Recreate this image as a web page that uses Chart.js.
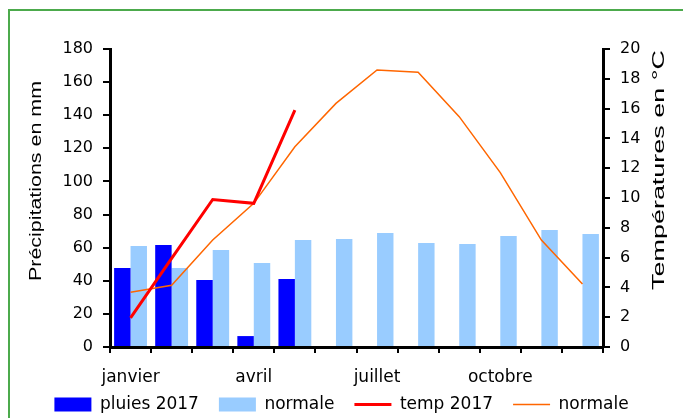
<!DOCTYPE html>
<html>
<head>
<meta charset="utf-8">
<script src="https://cdn.jsdelivr.net/npm/chart.js@4"></script>
<style>
  body { margin: 0; background: #fff; }
  #wrap { position: relative; width: 683px; height: 418px; overflow: hidden; }
  #frame { position: absolute; left: 8px; top: 9px; width: 720px; height: 440px; border: 2px solid #4caa4c; box-sizing: border-box; }
  #chart { position: absolute; left: 0; top: 0; }
</style>
</head>
<body>
<div id="wrap">
  <div id="frame"></div>
  <canvas id="chart" width="683" height="418"></canvas>
</div>
<script>
var mois = ['janvier', 'février', 'mars', 'avril', 'mai', 'juin', 'juillet', 'août', 'septembre', 'octobre', 'novembre', 'décembre'];
var pluies2017 = [47.7, 61.6, 40.5, 6.6, 41, null, null, null, null, null, null, null];
var pluiesNormale = [61, 47.7, 58.6, 50.7, 64.6, 65.2, 68.8, 62.8, 62.2, 67, 70.7, 68.2];
var temp2017 = [1.95, 5.95, 9.9, 9.64, 15.9, null, null, null, null, null, null, null];
var tempNormale = [3.67, 4.14, 7.18, 9.64, 13.44, 16.35, 18.59, 18.44, 15.46, 11.7, 7.18, 4.23];

Chart.defaults.color = '#000';
Chart.defaults.font.family = '"DejaVu Sans", sans-serif';

// titres des axes, un peu étirés comme sur l'original
var axisTitles = {
    id: 'axisTitles',
    afterDraw: function(chart) {
        var ctx = chart.ctx;
        var area = chart.chartArea;
        var draw = function(text, x, y, len) {
            ctx.save();
            ctx.font = '16px "Liberation Sans", Arial, sans-serif';
            ctx.fillStyle = '#000';
            ctx.textAlign = 'center';
            ctx.textBaseline = 'middle';
            ctx.translate(x, y);
            ctx.rotate(-Math.PI / 2);
            var w = ctx.measureText(text).width;
            ctx.scale(len / w, 1);
            ctx.fillText(text, 0, 0);
            ctx.restore();
        };
        draw('Précipitations en mm', 37, area.top + 132, 200);
        draw('Températures en °C', 660, area.top + 121, 240);
    }
};

// la légende remonte un peu, sous les étiquettes des mois
var legendShift = {
    id: 'legendShift',
    afterLayout: function(chart) {
        chart.legend.top -= 16;
    }
};

var ctx = document.getElementById('chart').getContext('2d');
var myChart = new Chart(ctx, {
    type: 'bar',
    data: {
        labels: mois,
        datasets: [
            { type: 'bar', label: 'pluies 2017', data: pluies2017, backgroundColor: '#0000ff', yAxisID: 'y', order: 3 },
            { type: 'bar', label: 'normale', data: pluiesNormale, backgroundColor: '#99ccff', yAxisID: 'y', order: 4 },
            { type: 'line', label: 'temp 2017', data: temp2017, borderColor: '#ff0000', borderWidth: 3, pointRadius: 0, tension: 0, yAxisID: 'y1', order: 1 },
            { type: 'line', label: 'normale', data: tempNormale, borderColor: '#ff6600', borderWidth: 1.5, pointRadius: 0, tension: 0, yAxisID: 'y1', order: 2 }
        ]
    },
    options: {
        responsive: false,
        animation: false,
        layout: { padding: { top: 49, left: 0, right: 0, bottom: 0 } },
        datasets: { bar: { categoryPercentage: 0.8, barPercentage: 1.0 } },
        scales: {
            x: {
                grid: { drawOnChartArea: false, color: '#000', lineWidth: 2, tickLength: 6, offset: true },
                border: { color: '#000', width: 3 },
                ticks: {
                    autoSkip: false, maxRotation: 0, padding: 14,
                    font: { size: 17 },
                    callback: function(v, i) { return i % 3 === 0 ? mois[i] : ''; }
                },
                afterFit: function(axis) { axis.height = 45; }
            },
            y: {
                position: 'left', min: 0, max: 180,
                grid: { drawOnChartArea: false, color: '#000', lineWidth: 2, tickLength: 7 },
                border: { color: '#000', width: 3 },
                ticks: { stepSize: 20, padding: 10, font: { size: 16 } },
                afterFit: function(axis) { axis.width = 110; }
            },
            y1: {
                position: 'right', min: 0, max: 20,
                grid: { drawOnChartArea: false, color: '#000', lineWidth: 2, tickLength: 7 },
                border: { color: '#000', width: 3 },
                ticks: { stepSize: 2, padding: 10, font: { size: 16 } },
                afterFit: function(axis) { axis.width = 80; }
            }
        },
        plugins: {
            tooltip: { enabled: false },
            legend: {
                display: true,
                position: 'bottom',
                maxHeight: 26,
                labels: {
                    usePointStyle: true,
                    pointStyleWidth: 37,
                    boxHeight: 14,
                    padding: 20,
                    font: { size: 17 },
                    sort: function(a, b) { return a.datasetIndex - b.datasetIndex; },
                    generateLabels: function(chart) {
                        var items = Chart.defaults.plugins.legend.labels.generateLabels(chart);
                        items.forEach(function(item) {
                            var ds = chart.data.datasets[item.datasetIndex];
                            if (ds.type === 'line') {
                                item.pointStyle = 'line';
                                item.strokeStyle = ds.borderColor;
                                item.lineWidth = ds.borderWidth;
                            } else {
                                item.pointStyle = 'rect';
                                item.fillStyle = ds.backgroundColor;
                                item.lineWidth = 0;
                            }
                        });
                        return items;
                    }
                }
            }
        }
    },
    plugins: [axisTitles, legendShift]
});
</script>
</body>
</html>
